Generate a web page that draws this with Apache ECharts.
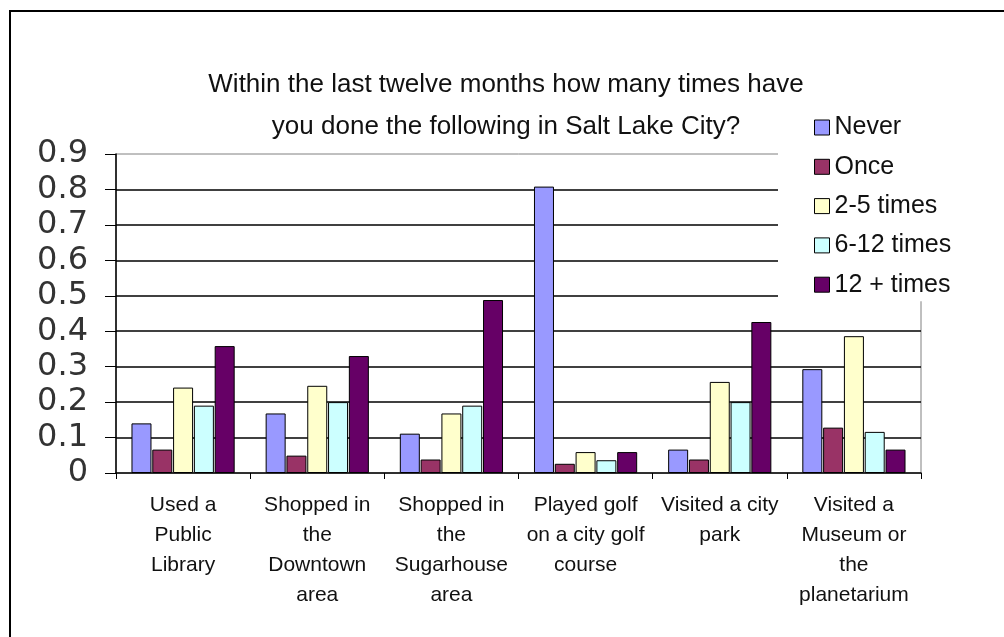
<!DOCTYPE html>
<html>
<head>
<meta charset="utf-8">
<script src="https://cdn.jsdelivr.net/npm/echarts@6/dist/echarts.min.js"></script>
<style>
  html, body { margin: 0; padding: 0; background: #fff; }
  #chart { width: 1004px; height: 637px; }
</style>
</head>
<body>
<div id="chart"></div>
<script>
  // data
  var categories = [
    'Used a\nPublic\nLibrary',
    'Shopped in\nthe\nDowntown\narea',
    'Shopped in\nthe\nSugarhouse\narea',
    'Played golf\non a city golf\ncourse',
    'Visited a city\npark',
    'Visited a\nMuseum or\nthe\nplanetarium'
  ];
  var seriesNames = ['Never', 'Once', '2-5 times', '6-12 times', '12 + times'];
  var never = [0.14, 0.168, 0.111, 0.808, 0.066, 0.293];
  var once = [0.066, 0.049, 0.038, 0.026, 0.038, 0.128];
  var twoToFive = [0.241, 0.246, 0.168, 0.059, 0.257, 0.386];
  var sixToTwelve = [0.19, 0.20, 0.19, 0.036, 0.20, 0.116];
  var twelvePlus = [0.358, 0.33, 0.488, 0.059, 0.426, 0.066];

  var colors = ['#9999ff', '#993366', '#ffffcc', '#ccffff', '#660066'];
  var values = [never, once, twoToFive, sixToTwelve, twelvePlus];
  var font = '"Liberation Sans", Arial, sans-serif';

  var chart = echarts.init(document.getElementById('chart'));

  chart.setOption({
    animation: false,
    backgroundColor: '#fff',
    textStyle: { fontFamily: font, color: '#000' },
    graphic: [{
      type: 'rect',
      shape: { x: 10, y: 11, width: 1100, height: 1000 },
      style: { fill: 'none', stroke: '#000', lineWidth: 2 },
      silent: true,
      z: 100
    }],
    title: {
      text: 'Within the last twelve months how many times have\nyou done the following in Salt Lake City?',
      left: 506,
      textAlign: 'center',
      top: 64,
      padding: 0,
      textStyle: {
        fontFamily: font,
        fontSize: 26,
        fontWeight: 'normal',
        color: '#111',
        lineHeight: 42
      }
    },
    legend: {
      orient: 'vertical',
      left: 778,
      top: 105,
      padding: [10, 30, 4, 36],
      backgroundColor: '#fff',
      itemWidth: 15,
      itemHeight: 15,
      itemGap: 14.3,
      icon: 'rect',
      itemStyle: { borderColor: '#000', borderWidth: 1 },
      textStyle: { fontFamily: font, fontSize: 25, color: '#111' },
      data: seriesNames
    },
    grid: {
      left: 116,
      right: 83,
      top: 154,
      bottom: 164,
      show: true,
      borderColor: '#808080',
      borderWidth: 1,
      backgroundColor: 'transparent'
    },
    xAxis: {
      type: 'category',
      data: categories,
      boundaryGap: true,
      axisLine: { lineStyle: { color: '#000', width: 1.5 } },
      axisTick: { show: true, length: 6, lineStyle: { color: '#000' } },
      axisLabel: {
        interval: 0,
        margin: 17,
        fontFamily: font,
        fontSize: 21,
        lineHeight: 30,
        color: '#111',
        verticalAlign: 'top'
      },
      splitLine: { show: false }
    },
    yAxis: {
      type: 'value',
      min: 0,
      max: 0.9,
      interval: 0.1,
      axisLine: { show: true, lineStyle: { color: '#000', width: 1.5 } },
      axisTick: { show: true, inside: false, length: 11, lineStyle: { color: '#000' } },
      axisLabel: {
        margin: 28,
        fontFamily: '"DejaVu Sans", sans-serif',
        fontSize: 32,
        color: '#333'
      },
      splitLine: {
        show: true,
        showMinLine: false,
        showMaxLine: false,
        lineStyle: { color: '#000', width: 1.5 }
      }
    },
    series: seriesNames.map(function (name, i) {
      return {
        name: name,
        type: 'bar',
        data: values[i],
        barWidth: 20,
        barGap: '4%',
        itemStyle: {
          color: colors[i],
          borderColor: '#000',
          borderWidth: 1
        }
      };
    })
  });
</script>
</body>
</html>
